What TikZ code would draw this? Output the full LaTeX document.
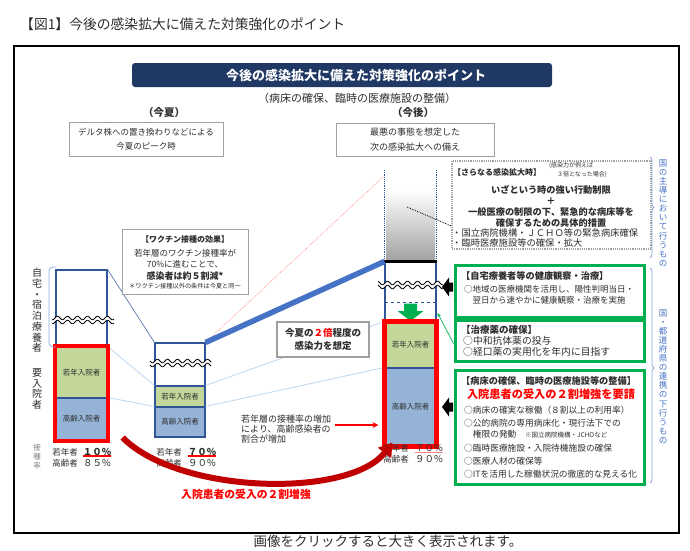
\documentclass[tikz,border=0pt]{standalone}
\usepackage{fontspec}
\setmainfont{Noto Sans CJK JP}
\usetikzlibrary{positioning,calc,arrows.meta,decorations.pathreplacing}
\newcommand{\fsz}[2]{\fontsize{#1}{#2}\selectfont}
\definecolor{navy}{RGB}{31,56,100}
\definecolor{balkenblau}{RGB}{47,85,151}
\definecolor{jungfarbe}{RGB}{196,215,155}
\definecolor{altfarbe}{RGB}{149,179,215}
\definecolor{dunkelrot}{RGB}{192,0,0}
\definecolor{gruen}{RGB}{0,176,80}
\definecolor{hellblau}{RGB}{189,215,238}
\definecolor{mittelblau}{RGB}{68,114,196}
\definecolor{rahmengrau}{RGB}{160,160,160}
\definecolor{klammerfarbe}{RGB}{143,170,220}
\definecolor{schrift}{RGB}{45,45,45}
\begin{document}
\begin{tikzpicture}[x=1pt,y=-1pt,
    txt/.style={inner sep=0pt, text=schrift},
    balken/.style={draw=balkenblau, line width=1.1pt, inner sep=0pt, minimum width=51pt},
    jung/.style={balken, fill=jungfarbe, font=\fsz{7.5}{8}, text=schrift},
    alt/.style={balken, fill=altfarbe, font=\fsz{7.5}{8}, text=schrift},
    rotrahmen/.style={draw=red, line width=4pt},
    grauebox/.style={draw=rahmengrau, line width=0.9pt, fill=white, inner sep=0pt},
    gruenebox/.style={draw=gruen, line width=3pt, inner sep=0pt, minimum width=189pt},
    duenn/.style={draw=hellblau, line width=0.8pt},
    welle/.style={line width=0.8pt},
    vtext/.style={inner sep=0pt, align=center, font=\fsz{8.5}{9.1}, text=mittelblau},
    klammer/.style={draw=klammerfarbe, line width=0.8pt, decorate, decoration={brace, amplitude=4pt}},
  ]
  \useasboundingbox (0,0) rectangle (690,550);
  % Rahmen und Titel
  \node[txt, anchor=west, font=\fsz{13.8}{15}] (titel) at (20,24) {【図1】今後の感染拡大に備えた対策強化のポイント};
  \draw[line width=1.2pt] (14,46) rectangle (679,533);
  \node[txt, font=\fsz{13.5}{15}] (fuss) at (388,541) {画像をクリックすると大きく表示されます。};
  \node[fill=navy, rounded corners=3pt, minimum width=420pt, minimum height=24pt, inner sep=0pt] (banner) at (342,75) {};
  \node[text=white, font=\bfseries\fsz{13}{14}, inner sep=0pt] (bannertext) at (356,75) {今後の感染拡大に備えた対策強化のポイント};
  \node[txt, font=\fsz{11}{12}] (untertitel) at (357,98) {（病床の確保、臨時の医療施設の整備）};
  \node[txt, font=\bfseries\fsz{10.5}{12}] (sommertitel) at (164,112) {（今夏）};
  \node[txt, font=\bfseries\fsz{10.5}{12}] (kuenftigtitel) at (413,112) {（今後）};
  \node[grauebox, minimum width=154pt, minimum height=34pt, align=center, font=\fsz{8.5}{14}, text=schrift] (sommer) at (146,139) {デルタ株への置き換わりなどによる\\今夏のピーク時};
  \node[grauebox, minimum width=158pt, minimum height=33pt, align=center, font=\fsz{9}{15}, text=schrift] (kuenftig) at (415,139.5) {最悪の事態を想定した\\次の感染拡大への備え};

  % Balken
  \node[balken, minimum height=77pt] (w1) at (81.5,308.5) {};
  \node[jung, minimum height=51pt] (g1) at (81.5,372.5) {若年入院者};
  \node[alt, minimum height=42pt] (o1) at (81.5,419) {高齢入院者};
  \node[balken, minimum width=50pt, minimum height=43pt] (w2) at (180,364.5) {};
  \node[jung, minimum width=50pt, minimum height=21pt] (g2) at (180,396.5) {若年入院者};
  \node[alt, minimum width=50pt, minimum height=30pt] (o2) at (180,422) {高齢入院者};
  \shade[top color=white, bottom color=gray!75] (386,190) rectangle (435,262);
  \node[balken, minimum height=60pt] (w3) at (410.5,292) {};
  \draw[balkenblau, densely dotted, line width=1.2pt] (w3.north west) -- ++(0,-92);
  \draw[balkenblau, densely dotted, line width=1.2pt] (w3.north east) -- ++(0,-92);
  \draw[line width=3.5pt] (w3.north west) -- (w3.north east);
  \draw[balkenblau, dashed, line width=1pt] (385,302) -- (436,302);
  \node[jung, minimum height=46pt] (g3) at (410.5,345) {若年入院者};
  \node[alt, minimum height=78pt] (o3) at (410.5,407) {高齢入院者};
  \fill[gruen] (404,303.5) -- (417,303.5) -- (417,311) -- (423.5,311) -- (410.5,321) -- (397.5,311) -- (404,311) -- cycle;

  % Verbindungen
  \draw[balkenblau!80, line width=0.7pt] (w1.north east) -- (w2.north west);
  \draw[duenn] (g1.north east) -- (g2.north west);
  \draw[duenn] (o1.north east) -- (o2.north west);
  \draw[duenn] (g2.north east) -- (g3.north west);
  \draw[duenn] (o2.north east) -- (o3.north west);
  \draw[rotrahmen] (g1.north west) rectangle (o1.south east);
  \draw[rotrahmen, line width=4.5pt] (g3.north west) rectangle (o3.south east);
  \coordinate (spitze) at (383,177);
  \draw[red!45, densely dotted, line width=0.7pt] (w2.north east) -- (spitze);
  \draw[mittelblau, line width=5.5pt] (w2.north east) -- (w3.north west);

  % Wellen
  \foreach \xa/\xb/\ym in {52/114/320, 150/211/363, 378/443/285}{
    \fill[white] plot[domain=\xa:\xb, samples=80, smooth] ({\x},{\ym-2+1.8*sin(36*\x)}) -- plot[domain=\xb:\xa, samples=80, smooth] ({\x},{\ym+2+1.8*sin(36*\x)}) -- cycle;
    \draw[welle] plot[domain=\xa:\xb, samples=80, smooth] ({\x},{\ym-2+1.8*sin(36*\x)});
    \draw[welle] plot[domain=\xa:\xb, samples=80, smooth] ({\x},{\ym+2+1.8*sin(36*\x)});
  }

  % linke Beschriftung
  \node[txt, align=center, font=\fsz{10}{10.7}] (zuhausetext) at (37,310.5) {自\\宅\\・\\宿\\泊\\療\\養\\者};
  \node[txt, align=center, font=\fsz{10}{10.7}] (stationaer) at (37,389) {要\\入\\院\\者};
  \node[txt, align=center, font=\fsz{7.5}{9}, text=gray] (rate) at (37,457) {接\\種\\率};
  \draw[klammerfarbe, line width=0.8pt, rounded corners=4pt] (56,267) -- (49,267) -- (49,347) -- (56,347);

  % Impfquoten
  \node[txt, font=\fsz{8.5}{9}] (j1) at (65,452) {若年者};
  \node[txt, font=\bfseries\fsz{9.5}{10}] (jp1) at (97,452) {１０\%};
  \node[txt, font=\fsz{8.5}{9}] (a1) at (65,463) {高齢者};
  \node[txt, font=\fsz{9.5}{10}] (ap1) at (97,463) {８５\%};
  \draw[red, line width=1.5pt] (jp1.south west) -- (jp1.south east);
  \node[txt, font=\fsz{8.5}{9}] (j2) at (169,452) {若年者};
  \node[txt, font=\bfseries\fsz{9.5}{10}] (jp2) at (202,452) {７０\%};
  \node[txt, font=\fsz{8.5}{9}] (a2) at (169,463) {高齢者};
  \node[txt, font=\fsz{9.5}{10}] (ap2) at (202,463) {９０\%};
  \draw[red, line width=1.5pt] (jp2.south west) -- (jp2.south east);
  \node[txt, font=\fsz{8.5}{9}] (j3) at (396,448) {若年者};
  \node[txt, font=\fsz{9.5}{10}] (jp3) at (429,448) {７０\%};
  \node[txt, font=\fsz{8.5}{9}] (a3) at (396,459) {高齢者};
  \node[txt, font=\fsz{9.5}{10}] (ap3) at (429,459) {９０\%};
  \draw[red!50, line width=0.6pt] (jp3.south west) -- (jp3.south east);

  % Kaesten in der Mitte
  \node[grauebox, minimum width=126pt, minimum height=65pt] (impf) at (185,261.5) {};
  \node[txt, font=\bfseries\fsz{8}{9}] (impf1) at (185,239) {【ワクチン接種の効果】};
  \node[txt, font=\fsz{8.5}{11.5}, align=center] (impf2) at (185,258.5) {若年層のワクチン接種率が\\70\%に進むことで、};
  \node[txt, font=\bfseries\fsz{9}{10}] (impf3) at (185,276) {感染者は約５割減*};
  \node[txt, font=\fsz{6.2}{7}] (impf4) at (185,286) {＊ワクチン接種以外の条件は今夏と同一};
  \node[draw=rahmengrau, line width=2pt, fill=white, minimum width=92pt, minimum height=35pt, inner sep=0pt, align=center, font=\bfseries\fsz{9.5}{13.5}, text=schrift] (zweifach) at (323,339.5) {今夏の\textcolor{red}{２倍}程度の\\感染力を想定};
  \node[txt, anchor=west, align=left, font=\fsz{9}{10}] (zunahme) at (241,429) {若年層の接種率の増加\\により、高齢感染者の\\割合が増加};
  \draw[red, line width=1.2pt, -{Stealth[length=6pt,width=6pt]}] ($(zunahme.east)+(4,-4)$) -- ($(zunahme.east -| o3.west)+(-6,-4)$);
  \draw[dunkelrot, line width=6pt, -{Triangle[length=13pt,width=16pt]}] ($(o1.south east)+(15,-3)$) .. controls (180,495) and (350,498) .. ($(o3.south west)+(8,-4)$);
  \node[txt, text=red, font=\bfseries\fsz{10.8}{12}] (ukeire) at (246,494) {入院患者の受入の２割増強};

  % rechte Kaesten
  \node[draw=rahmengrau, densely dotted, line width=1.2pt, minimum width=199pt, minimum height=88pt, inner sep=0pt] (sarani) at (551.5,205) {};
  \node[txt, anchor=west, font=\bfseries\fsz{8}{9}] (sarani1) at (453,172) {【さらなる感染拡大時】};
  \node[txt, anchor=west, align=left, font=\fsz{6}{9.5}] (sarani2) at (549,170) {(感染力が例えば\\\hspace{1.3em}３倍となった場合)};
  \node[txt, font=\bfseries\fsz{9.2}{11}, align=center] (sarani3) at (551,194.5) {いざという時の強い行動制限\\＋};
  \node[txt, font=\bfseries\fsz{9.2}{11}, align=center] (sarani4) at (551,217.5) {一般医療の制限の下、緊急的な病床等を\\確保するための具体的措置};
  \node[txt, anchor=west, align=left, font=\fsz{9.3}{10}] (sarani5) at (452,238) {・国立病院機構・ＪＣＨＯ等の緊急病床確保\\・臨時医療施設等の確保・拡大};
  \coordinate (grau) at (407,207);
  \draw[densely dotted, line width=0.8pt] (grau) -- ($(sarani.west)+(0,21)$);

  \node[gruenebox, minimum height=52pt] (zuhause) at (549.5,291) {};
  \node[txt, anchor=west, font=\bfseries\fsz{9.2}{10}] (zuhause1) at (461,276) {【自宅療養者等の健康観察・治療】};
  \node[txt, anchor=west, align=left, font=\fsz{8.5}{11}] (zuhause2) at (464,294.5) {○地域の医療機関を活用し、陽性判明当日・\\\hspace{1em}翌日から速やかに健康観察・治療を実施};
  \node[gruenebox, minimum height=41pt] (chiryo) at (549.5,340.5) {};
  \node[txt, anchor=west, font=\bfseries\fsz{9.5}{10}] (chiryo1) at (461,330) {【治療薬の確保】};
  \node[txt, anchor=west, align=left, font=\fsz{9.8}{11}] (chiryo2) at (463,346.5) {○中和抗体薬の投与\\○経口薬の実用化を年内に目指す};
  \node[gruenebox, minimum height=114pt] (bett) at (549.5,427) {};
  \node[txt, anchor=west, font=\bfseries\fsz{9.2}{10}] (bett1) at (461,381) {【病床の確保、臨時の医療施設等の整備】};
  \node[txt, text=red, font=\bfseries\fsz{11.2}{12}] (bett2) at (551,394.5) {入院患者の受入の２割増強を要請};
  \foreach \yy/\zeile [count=\i] in {410/○病床の確実な稼働（８割以上の利用率）, 423/○公的病院の専用病床化・現行法下での, 434/{\hspace{1em}権限の発動\hspace{1em}{\fsz{6.5}{7}※国立病院機構・JCHOなど}}, 448/○臨時医療施設・入院待機施設の確保, 461/○医療人材の確保等, 474/○ITを活用した稼働状況の徹底的な見える化}
    \node[txt, anchor=west, font=\fsz{8.7}{10}] (punkt\i) at (464,\yy) {\zeile};

  % Pfeile zu den Kaesten
  \foreach \yy in {287,407}
    \fill (453,\yy-4.5) -- (449,\yy-4.5) -- (449,\yy-9.5) -- (442,\yy) -- (449,\yy+9.5) -- (449,\yy+4.5) -- (453,\yy+4.5) -- cycle;
  \draw[gruen, line width=0.7pt, -{Stealth[length=4pt,width=3.5pt]}] ($(chiryo.west)+(0,3)$) -- ($(w3.east)+(1,21)$);

  % Zustaendigkeit
  \draw[klammer] (650,157) -- (650,258);
  \draw[klammer, decoration={brace, amplitude=4pt, aspect=0.465}] (650,268) -- (650,483);
  \node[vtext] (national) at (663,213) {国\\の\\主\\導\\に\\お\\い\\て\\行\\う\\も\\の};
  \node[vtext] (gemeinsam) at (663,376.5) {国\\・\\都\\道\\府\\県\\の\\連\\携\\の\\下\\行\\う\\も\\の};
\end{tikzpicture}
\end{document}
